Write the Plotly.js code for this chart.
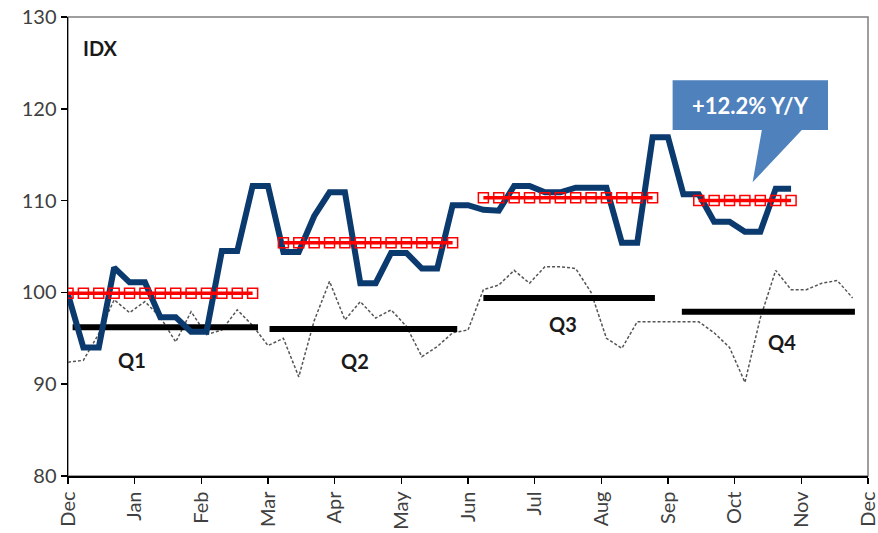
<!DOCTYPE html>
<html>
<head>
<meta charset="utf-8">
<script src="https://cdn.plot.ly/plotly-3.0.1.min.js"></script>
<style>
  html, body { margin: 0; padding: 0; background: #fff; }
  #chart { width: 878px; height: 533px; }
</style>
</head>
<body>
<div id="chart"></div>
<script>
// ---- Data (weekly index, 0 = start of December) ----
const monthLabels = ["Dec","Jan","Feb","Mar","Apr","May","Jun","Jul","Aug","Sep","Oct","Nov","Dec"];

// Current-year weekly index (thick blue)
const currentIdx = [99.8, 94.0, 94.0, 102.7, 101.1, 101.1, 97.3, 97.3, 95.7, 95.7,
  104.5, 104.5, 111.6, 111.6, 104.4, 104.4, 108.3, 110.9, 110.9, 101.0,
  101.0, 104.3, 104.3, 102.6, 102.6, 109.5, 109.5, 109.0, 108.9, 111.6,
  111.6, 110.9, 110.9, 111.4, 111.4, 111.4, 105.4, 105.4, 116.9, 116.9,
  110.7, 110.7, 107.7, 107.7, 106.6, 106.6, 111.3, 111.3];

// Prior-year weekly index (thin dashed)
const priorIdx = [92.4, 92.6, 95.5, 99.2, 97.8, 99.0, 97.3, 94.6, 97.9, 95.4,
  95.9, 98.1, 96.4, 94.2, 95.0, 90.8, 96.9, 101.2, 97.0, 99.0,
  97.2, 98.1, 96.3, 93.0, 94.1, 95.6, 95.9, 100.3, 100.8, 102.4,
  101.0, 102.8, 102.8, 102.6, 100.0, 95.0, 93.9, 96.8, 96.8, 96.8,
  96.8, 96.8, 95.6, 94.0, 90.2, 97.2, 102.4, 100.3, 100.3, 101.0,
  101.3, 99.4];

// Quarterly averages
const quarters = ["Q1","Q2","Q3","Q4"];
const currentQAvg = [99.9, 105.4, 110.3, 110.0];   // red squares
const currentQStart = [0, 14, 27, 41];              // week index of first square
const currentQEnd = [12, 25, 38, 47];               // week index of last square
const priorQAvg = [96.2, 96.0, 99.4, 97.9];         // thick black bars
const priorQStart = [0.3, 13.1, 27.0, 39.9];
const priorQEnd = [12.35, 25.3, 38.15, 51.15];

const calloutText = "+12.2% Y/Y";

// ---- Build traces ----
const wk = n => Array.from({length: n}, (_, i) => i);

const priorTrace = {
  x: wk(priorIdx.length), y: priorIdx, type: "scatter", mode: "lines",
  line: {color: "#555555", width: 1.5, dash: "3px,2px"}, hoverinfo: "skip"
};

const blackX = [], blackY = [];
quarters.forEach((q, i) => {
  blackX.push(priorQStart[i], priorQEnd[i], null);
  blackY.push(priorQAvg[i], priorQAvg[i], null);
});
const blackTrace = {
  x: blackX, y: blackY, type: "scatter", mode: "lines",
  line: {color: "#000000", width: 6}, hoverinfo: "skip"
};

const blueTrace = {
  x: wk(currentIdx.length), y: currentIdx, type: "scatter", mode: "lines",
  line: {color: "#0a3a6e", width: 6}, hoverinfo: "skip"
};

const redX = [], redY = [];
quarters.forEach((q, i) => {
  for (let w = currentQStart[i]; w <= currentQEnd[i]; w++) {
    redX.push(w); redY.push(currentQAvg[i]);
  }
  redX.push(null); redY.push(null);
});
const redTrace = {
  x: redX, y: redY, type: "scatter", mode: "lines+markers",
  line: {color: "#ff0000", width: 3.5},
  marker: {symbol: "square-open", size: 10, color: "#ff0000", line: {width: 1.5, color: "#ff0000"}},
  hoverinfo: "skip"
};

// ---- Layout ----
const monthTicks = monthLabels.map((m, i) => i * 52 / 12);

const fontFam = "Lato, 'Open Sans', sans-serif";
const qLabelPos = [[4.16, 92.6], [18.65, 92.5], [32.2, 96.6], [46.4, 94.6]];
const annotations = quarters.map((q, i) => ({
  x: qLabelPos[i][0], y: qLabelPos[i][1], xref: "x", yref: "y",
  text: "<b>" + q + "</b>", showarrow: false,
  font: {family: fontFam, size: 20, color: "#1a1a1a"}
}));
annotations.push({
  x: 2.1, y: 126.6, xref: "x", yref: "y", text: "<b>IDX</b>", showarrow: false,
  font: {family: fontFam, size: 20, color: "#1a1a1a"}
});
annotations.push({
  x: 44.35, y: 120.4, xref: "x", yref: "y", text: "<b>" + calloutText + "</b>", showarrow: false,
  font: {family: fontFam, size: 22, color: "#ffffff"}
});

const shapes = [
  {type: "rect", xref: "paper", yref: "paper", x0: 0, x1: 1, y0: 0, y1: 1,
   line: {color: "#7f7f7f", width: 1.5}, fillcolor: "rgba(0,0,0,0)", layer: "below"},
  {type: "path", xref: "x", yref: "y",
   path: "M 39.3 123.1 L 49.4 123.1 L 49.4 117.7 L 47.7 117.7 L 44.5 112.0 L 45.1 117.7 L 39.3 117.7 Z",
   fillcolor: "#4f81bd", line: {width: 0}, layer: "above"}
];

const tickFont = {family: fontFam, size: 20, color: "#404040"};

const layout = {
  width: 878, height: 533,
  margin: {l: 68, r: 10, t: 17, b: 57, pad: 0},
  paper_bgcolor: "#ffffff", plot_bgcolor: "#ffffff",
  showlegend: false,
  xaxis: {
    range: [0, 52], tickmode: "array", tickvals: monthTicks, ticktext: monthLabels,
    tickangle: -90, ticks: "outside", ticklen: 6, tickwidth: 1.5, tickcolor: "#000",
    showline: true, linecolor: "#000", linewidth: 1.5, showgrid: false, zeroline: false,
    tickfont: tickFont, ticklabeloverflow: "allow", fixedrange: true
  },
  yaxis: {
    range: [80, 130], tickmode: "array", tickvals: [80, 90, 100, 110, 120, 130],
    ticks: "outside", ticklen: 6, tickwidth: 1.5, tickcolor: "#000",
    showline: true, linecolor: "#000", linewidth: 1.5, showgrid: false, zeroline: false,
    tickfont: tickFont, ticklabeloverflow: "allow", fixedrange: true
  },
  annotations: annotations,
  shapes: shapes
};

Plotly.newPlot("chart", [priorTrace, blackTrace, blueTrace, redTrace], layout,
  {staticPlot: true, displayModeBar: false});
</script>
</body>
</html>
